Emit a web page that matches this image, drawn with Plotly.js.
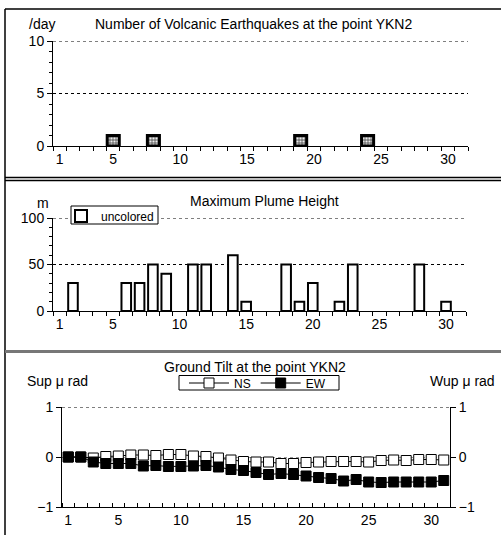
<!DOCTYPE html>
<html>
<head>
<meta charset="utf-8">
<script src="https://cdn.plot.ly/plotly-3.0.1.min.js"></script>
<style>html,body{margin:0;padding:0;background:#fff}#chart{width:501px;height:535px}</style>
</head>
<body>
<div id="chart"></div>
<script>
// ---- data ----
var days = [1,2,3,4,5,6,7,8,9,10,11,12,13,14,15,16,17,18,19,20,21,22,23,24,25,26,27,28,29,30,31];
var quakeDays = [5, 8, 19, 24];
var quakeCounts = [1, 1, 1, 1];
var plumeDays = [2, 6, 7, 8, 9, 11, 12, 14, 15, 18, 19, 20, 22, 23, 28, 30];
var plumeHeights = [30, 30, 30, 50, 40, 50, 50, 60, 10, 50, 10, 30, 10, 50, 50, 10];
var tiltNS = [0.0, 0.0, -0.02, 0.01, 0.02, 0.04, 0.04, 0.03, 0.05, 0.05, 0.02, 0.01, -0.02, -0.06, -0.09, -0.1, -0.1, -0.13, -0.13, -0.11, -0.1, -0.09, -0.09, -0.09, -0.1, -0.07, -0.06, -0.07, -0.05, -0.05, -0.06];
var tiltEW = [0.0, 0.0, -0.1, -0.13, -0.13, -0.13, -0.18, -0.17, -0.19, -0.19, -0.18, -0.17, -0.2, -0.25, -0.27, -0.31, -0.35, -0.33, -0.35, -0.38, -0.41, -0.43, -0.48, -0.45, -0.5, -0.51, -0.5, -0.5, -0.5, -0.5, -0.47];
var dayTicks = [1, 5, 10, 15, 20, 25, 30];
var dayTickText = ['1', '5', '10', '15', '20', '25', '30'];
var titles = ['Number of Volcanic Earthquakes at the point YKN2', 'Maximum Plume Height', 'Ground Tilt at the point YKN2'];

// ---- layout helpers ----
var W = 501, H = 535;
function px(x){return x / W;}
function py(y){return 1 - y / H;}
var FONT = 'Liberation Sans, Arial, sans-serif';
var boundaries = [];
for (var i = 0; i <= days.length; i++) boundaries.push(days[0] - 0.5 + i);

function xAxis(x0, x1, anchor, tickDir){
  return {
    domain: [px(x0), px(x1)], anchor: anchor, range: [0.5, 31.5],
    tickmode: 'array', tickvals: dayTicks, ticktext: dayTickText,
    ticks: '', showgrid: false, zeroline: false,
    showline: true, linecolor: '#000', linewidth: 1,
    tickfont: {family: FONT, size: 14, color: '#000'},
    minor: {tickmode: 'array', tickvals: boundaries, ticks: tickDir, ticklen: 4, tickcolor: '#000', tickwidth: 1, showgrid: false},
    fixedrange: true
  };
}
function ann(text, x, y, size){
  return {text: text, x: px(x), y: py(y), xref: 'paper', yref: 'paper', xanchor: 'center', yanchor: 'middle',
    showarrow: false, font: {family: FONT, size: size, color: '#000'}};
}
function hline(xaxisRef, yref, yval, color){
  return {type: 'line', xref: xaxisRef + ' domain', yref: yref, x0: 0, x1: 1, y0: yval, y1: yval,
    line: {color: color, width: 1, dash: 'dot'}, layer: 'below'};
}
function pline(x0, y0, x1, y1, color, w){
  return {type: 'line', xref: 'paper', yref: 'paper', x0: px(x0), x1: px(x1), y0: py(y0), y1: py(y1), line: {color: color, width: w}};
}
function pbox(x0, y0, x1, y1){
  return {type: 'rect', xref: 'paper', yref: 'paper', x0: px(x0), x1: px(x1), y0: py(y0), y1: py(y1),
    line: {color: '#000', width: 1}, fillcolor: '#fff', layer: 'above'};
}

var traces = [
  {type: 'bar', x: quakeDays, y: quakeCounts, xaxis: 'x', yaxis: 'y', width: 0.9, showlegend: false,
   marker: {color: '#999', line: {color: '#000', width: 3}, pattern: {shape: '.', fgcolor: '#eee', bgcolor: '#777', size: 3, solidity: 0.4}}},
  {type: 'bar', x: plumeDays, y: plumeHeights, xaxis: 'x2', yaxis: 'y2', width: 0.72, name: 'uncolored', legend: 'legend',
   marker: {color: '#fff', line: {color: '#000', width: 2}}},
  {type: 'scatter', mode: 'lines+markers', x: days, y: tiltNS, xaxis: 'x3', yaxis: 'y3', name: 'NS', legend: 'legend2',
   line: {color: '#000', width: 1}, marker: {symbol: 'square', size: 10, color: '#fff', line: {color: '#000', width: 1}}},
  {type: 'scatter', mode: 'lines+markers', x: days, y: tiltEW, xaxis: 'x3', yaxis: 'y4', name: 'EW', legend: 'legend2',
   line: {color: '#000', width: 1}, marker: {symbol: 'square', size: 10, color: '#000', line: {color: '#000', width: 1}}}
];

var layout = {
  width: W, height: H, margin: {l: 0, r: 0, t: 0, b: 0},
  paper_bgcolor: '#fff', plot_bgcolor: 'rgba(0,0,0,0)',
  font: {family: FONT, size: 13, color: '#000'},
  bargap: 0,
  xaxis: xAxis(53, 468, 'y', 'outside'),
  yaxis: {domain: [py(146), py(41)], anchor: 'x', range: [0, 10], tickvals: [0, 5, 10],
    ticks: 'outside', ticklen: 5, tickcolor: '#000', showline: true, linecolor: '#000', zeroline: false,
    showgrid: true, gridcolor: '#000', griddash: 'dot', gridwidth: 1,
    minor: {dtick: 1, tick0: 0, ticks: 'outside', ticklen: 3, tickcolor: '#000', showgrid: false},
    tickfont: {family: FONT, size: 14}, fixedrange: true},
  xaxis2: xAxis(53, 466, 'y2', 'outside'),
  yaxis2: {domain: [py(311), py(218)], anchor: 'x2', range: [0, 100], tickvals: [0, 50, 100],
    ticks: 'outside', ticklen: 5, tickcolor: '#000', showline: true, linecolor: '#000', zeroline: false,
    showgrid: true, gridcolor: '#000', griddash: 'dot', gridwidth: 1,
    minor: {dtick: 10, tick0: 0, ticks: 'outside', ticklen: 3, tickcolor: '#000', showgrid: false},
    tickfont: {family: FONT, size: 14}, fixedrange: true},
  xaxis3: xAxis(62, 450, 'y3', 'inside'),
  yaxis3: {domain: [py(507), py(407)], anchor: 'x3', range: [-1, 1], tickvals: [-1, 0, 1], ticktext: ['\u22121', '0', '1'],
    ticks: 'outside', ticklen: 5, tickcolor: '#000', showline: true, linecolor: '#000', zeroline: false,
    showgrid: true, gridcolor: '#999', griddash: 'dot', gridwidth: 1,
    tickfont: {family: FONT, size: 14}, fixedrange: true},
  yaxis4: {overlaying: 'y3', side: 'right', anchor: 'x3', range: [-1, 1], tickvals: [-1, 0, 1], ticktext: ['\u22121', '0', '1'],
    ticks: 'outside', ticklen: 5, tickcolor: '#000', showline: true, linecolor: '#000', zeroline: false,
    showgrid: false, tickfont: {family: FONT, size: 14}, fixedrange: true},
  legend: {x: px(61), y: py(216), xanchor: 'left', yanchor: 'middle', orientation: 'h',
    bgcolor: 'rgba(0,0,0,0)', borderwidth: 0, font: {family: FONT, size: 12},
    itemwidth: 30, tracegroupgap: 0},
  legend2: {x: px(184), y: py(383), xanchor: 'left', yanchor: 'middle', orientation: 'h',
    bgcolor: 'rgba(0,0,0,0)', borderwidth: 0, font: {family: FONT, size: 12}, itemwidth: 40},
  annotations: [
    ann(titles[0], 254, 24, 14),
    ann('/day', 42, 24, 14),
    ann(titles[1], 264, 201, 14),
    ann('m', 43, 203, 14),
    ann(titles[2], 255, 367, 14),
    ann('Sup \u03bc rad', 57, 381, 14),
    ann('Wup \u03bc rad', 462, 381, 14)
  ],
  shapes: [
    hline('x', 'y', 10, '#000'),
    hline('x2', 'y2', 100, '#000'),
    hline('x3', 'y3', 1, '#000'),
    pline(5, 9, 501, 9, '#000', 1.5),
    pline(5, 9, 5, 535, '#000', 1.5),
    pline(5, 177.5, 501, 177.5, '#000', 1.5),
    pline(5, 180.5, 501, 180.5, '#000', 1.5),
    pline(5, 351.5, 501, 351.5, '#777', 3),
    pbox(71, 206, 158, 224),
    pbox(179, 375.5, 339, 390)
  ]
};

Plotly.newPlot('chart', traces, layout, {displayModeBar: false, staticPlot: true});
</script>
</body>
</html>
